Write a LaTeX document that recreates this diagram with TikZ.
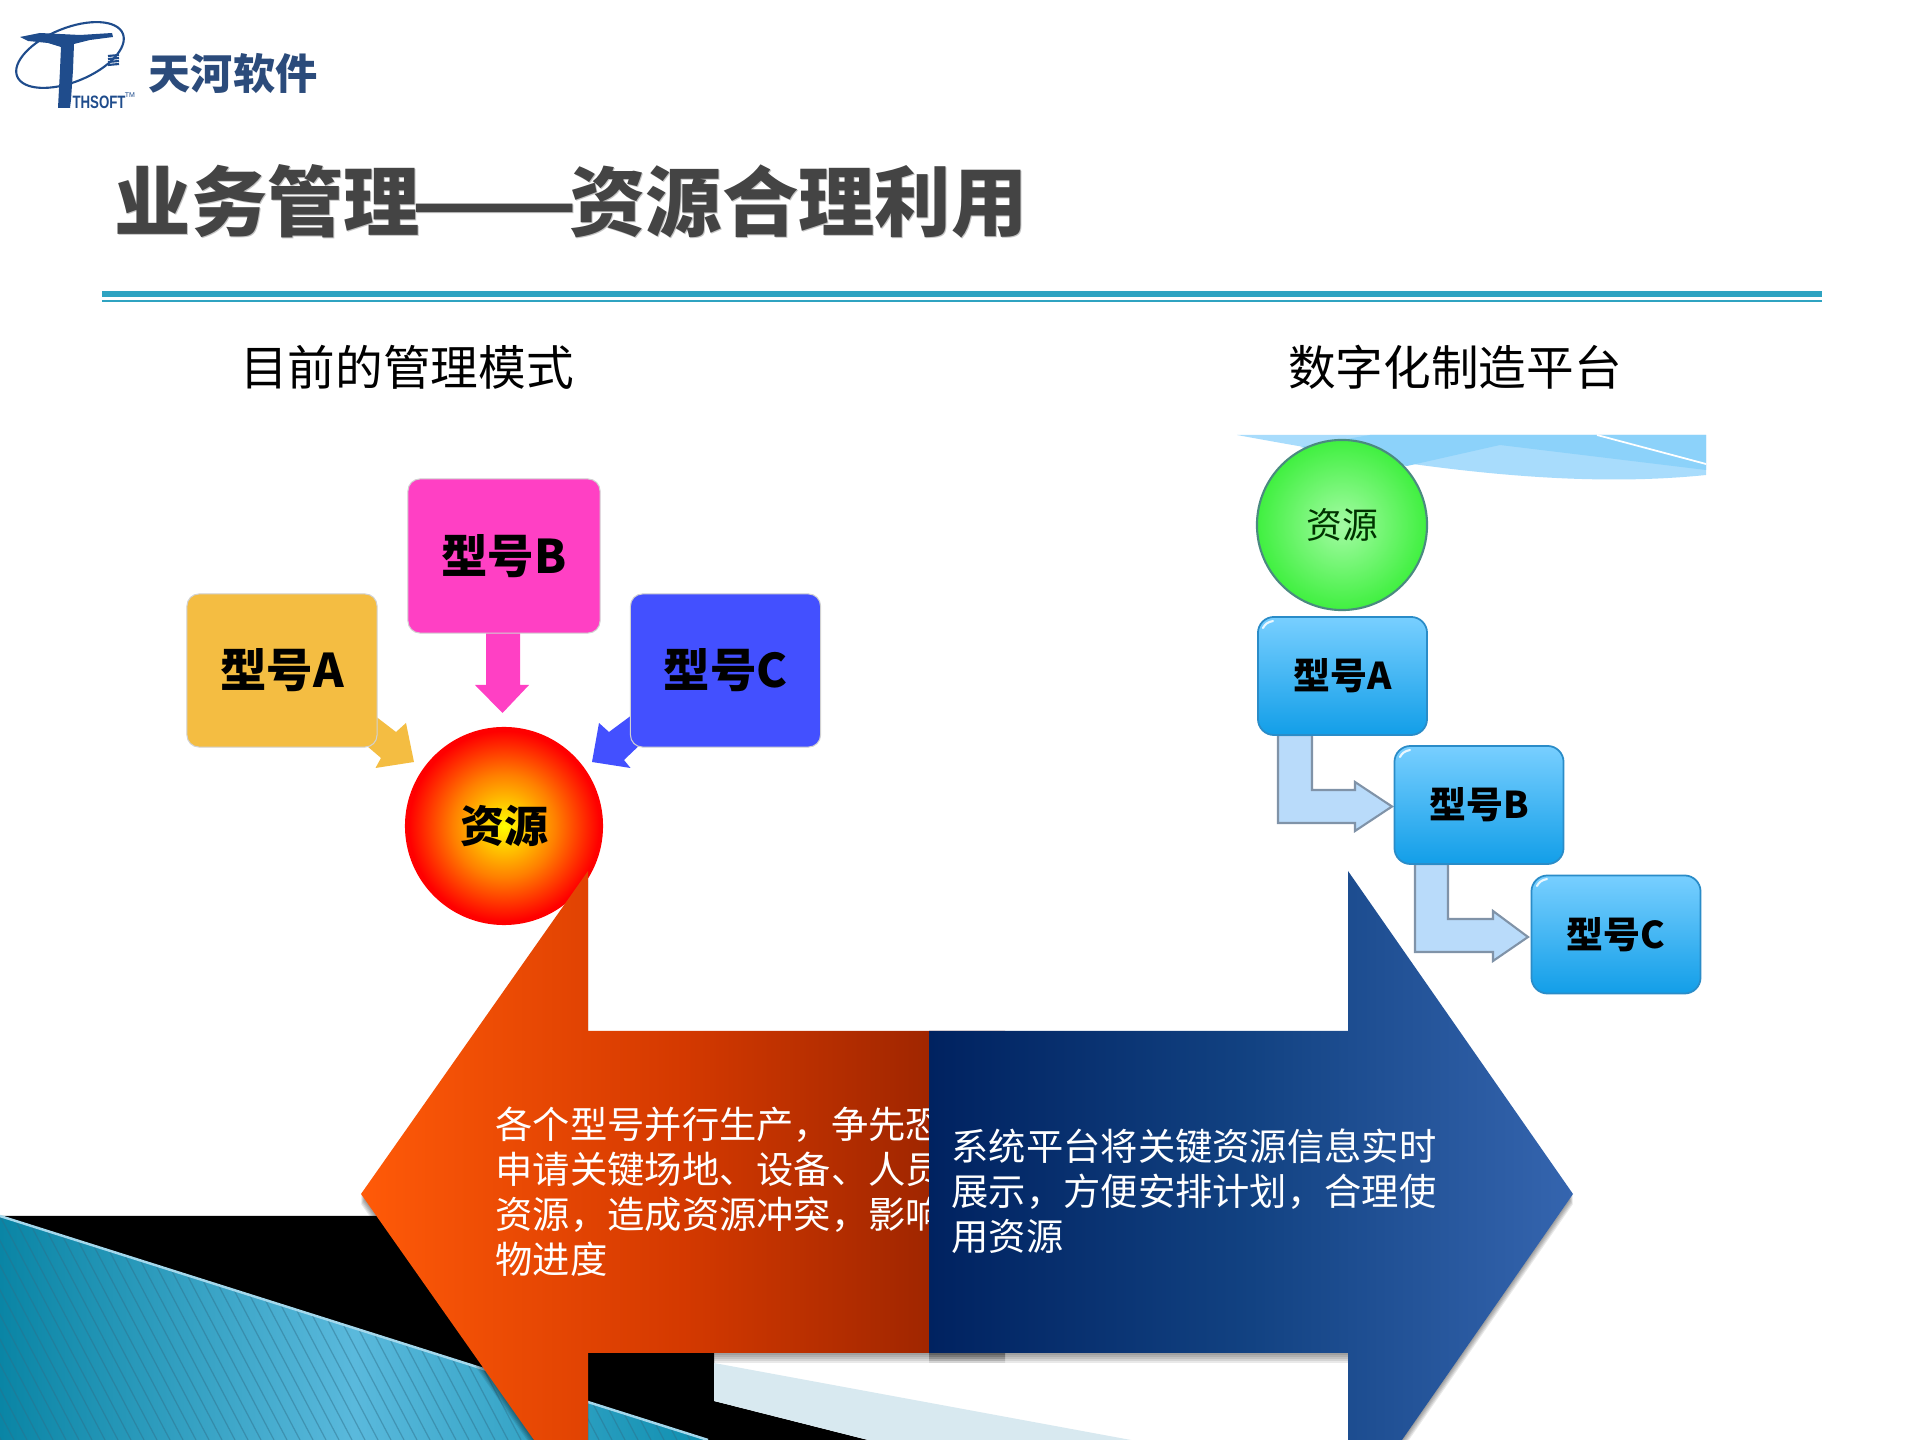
\documentclass[tikz,border=0pt]{standalone}
\usepackage{fontspec}
\setmainfont{Noto Sans CJK SC}
\newfontfamily\latinbold{Liberation Sans}[BoldFont={Liberation Sans Bold}]
\definecolor{titlegrey}{HTML}{444444}
\definecolor{titleshadow}{HTML}{C4C4C4}
\definecolor{rulecol}{HTML}{2FA3C1}
\definecolor{logoblue}{HTML}{1F4C8C}
\definecolor{logotext}{HTML}{2B4B7B}
\definecolor{boxa}{HTML}{F4BD42}
\definecolor{boxb}{HTML}{FF40C4}
\definecolor{boxc}{HTML}{4350FF}
\definecolor{skytop}{HTML}{78CFFF}
\definecolor{skybot}{HTML}{129EE8}
\definecolor{skyedge}{HTML}{2A8CC8}
\definecolor{bentfill}{HTML}{B9DBFA}
\definecolor{bentedge}{HTML}{8093A8}
\definecolor{tealA}{HTML}{0A85A5}
\definecolor{tealB}{HTML}{5AB9DC}
\definecolor{tealC}{HTML}{0F8FB0}
\definecolor{hatchcol}{HTML}{2E6F8A}
\definecolor{bandcol}{HTML}{D8E9F0}
\definecolor{swooshA}{HTML}{A8DCFC}
\definecolor{swooshB}{HTML}{8CD2FA}
\definecolor{redA}{HTML}{FF5A08}
\definecolor{redB}{HTML}{D43900}
\definecolor{redC}{HTML}{902000}
\definecolor{blueA}{HTML}{002260}
\definecolor{blueM}{HTML}{124282}
\definecolor{blueB}{HTML}{3565AF}
\definecolor{greenin}{HTML}{A4FBA4}
\definecolor{greenout}{HTML}{40F040}
\definecolor{greenedge}{HTML}{4A8A80}
\pgfdeclareradialshading{sunball}{\pgfpoint{0bp}{0bp}}{color(0bp)=(yellow); color(13bp)=(orange); color(24bp)=(red); color(50bp)=(red)}
\newcommand{\lifted}[1]{\raisebox{.7pt}{#1}}
\newcommand{\redoutline}{(361,1194) -- (588,871) -- (588,1031) -- (1005,1031) -- (1005,1353) -- (588,1353) -- (588,1440) -- (534,1440) -- cycle}
\newcommand{\blueoutline}{(929,1031) -- (1348,1031) -- (1348,871) -- (1573,1194) -- (1402,1440) -- (1348,1440) -- (1348,1353) -- (929,1353) -- cycle}
\tikzset{
  flatbox/.style={rounded corners=1.2mm,draw=black!18,line width=.3pt,minimum width=1.9cm,minimum height=1.53cm,inner sep=0pt,text=black,font=\fontsize{13.2}{13.2}\selectfont\bfseries},
  skybox/.style={rounded corners=1.6mm,draw=skyedge,line width=.5pt,top color=skytop,bottom color=skybot,minimum width=1.69cm,minimum height=1.18cm,inner sep=0pt,text=black,font=\fontsize{10.5}{10.5}\selectfont\bfseries},
  bentarrow/.style={fill=bentfill,draw=bentedge,line width=.6pt,line join=miter},
  softshade/.style={fill=black,opacity=.085},
  gloss/.style={white,line width=.6pt,opacity=.85,line cap=round},
  bodytext/.style={text=white,align=left,inner sep=0pt,anchor=west,font=\fontsize{10.6}{12.8}\selectfont},
  subtitle/.style={text=black,inner sep=0pt,font=\fontsize{13.55}{13.55}\selectfont},
  titlefont/.style={inner sep=0pt,anchor=west,font=\fontsize{21.7}{21.7}\selectfont\bfseries}
}
\newcommand{\titletext}{业务管理\hspace{-.11em}\scalebox{1.27}[1]{——}\hspace{-.11em}资源合理利用}
\begin{document}
\begin{tikzpicture}[x=.01cm,y=-.01cm]
\useasboundingbox (0,0) rectangle (1920,1440);
\fill[white] (0,0) rectangle (1920,1440);

% bottom background
\fill[black] (0,1216) -- (714,1216) -- (714,1401) -- (868,1440) -- (0,1440) -- cycle;
\fill[bandcol] (714,1363) -- (1131,1440) -- (868,1440) -- (714,1401) -- cycle;
\begin{scope}
  \clip (0,1216) -- (708,1440) -- (0,1440) -- cycle;
  \shade[left color=tealA,right color=tealC,middle color=tealB] (0,1216) rectangle (708,1440);
  \foreach \k in {-12,...,60}
    \draw[hatchcol,opacity=.45,line width=.35pt] ({\k*13},1216) -- ({\k*13+118},1440);
\end{scope}
\draw[tealB!55!white,line width=.7pt] (0,1216) -- (708,1440);

% swoosh, top right
\begin{scope}
  \clip (1237,435) rectangle (1706,490);
  \fill[swooshA] (1237,435) .. controls (1400,465) and (1560,490) .. (1706,475) -- (1706,435) -- cycle;
  \fill[swooshB] (1370,435) -- (1706,435) -- (1706,470) -- (1500,445) -- (1407,466) -- (1300,447) -- cycle;
  \draw[white,line width=.5pt] (1597,435) -- (1706,464);
\end{scope}

% logo
\draw[logoblue,line width=.6pt,rotate around={22:(70,55)}] (70,55) ellipse [x radius=57,y radius=27];
\fill[logoblue] (20,37) -- (40,33) -- (80,35) -- (112,33) -- (113,37) -- (90,40) -- (74,44) -- (73,70) -- (71,100) -- (70,108) -- (58,108) -- (60,70) -- (61,47) -- (48,43) -- (28,41) -- cycle;
\foreach \yy in {56,59,62,65}
  \draw[logoblue,line width=.6pt] (108,\yy) -- (119,\yy-1);
\node[inner sep=0pt,anchor=west,text=logoblue,font=\latinbold\bfseries\fontsize{5.1}{5.1}\selectfont,xscale=.74] (thsoft) at (72,102) {THSOFT};
\node[inner sep=0pt,text=logoblue,font=\latinbold\fontsize{2}{2}\selectfont] (tm) at (130,95) {TM};
\node[inner sep=0pt,text=logotext,font=\fontsize{12}{12}\selectfont\bfseries] (brand) at (233,73) {天河软件};

% title
\node[titlefont,text=titleshadow] (titleshade) at (115,202.5) {\titletext};
\node[titlefont,text=titlegrey] (title) at (114,201) {\titletext};
\fill[rulecol] (102,291) rectangle (1822,297.5);
\fill[rulecol] (102,300) rectangle (1822,302);

\node[subtitle] (subL) at (407,367.5) {目前的管理模式};
\node[subtitle] (subR) at (1455,367.5) {数字化制造平台};

% left diagram: block arrows
\fill[boxb] (486,633) -- (520,633) -- (520,685) -- (529,685) -- (502.5,713) -- (475,685) -- (486,685) -- cycle;
\fill[boxa] (370,712) -- (396,732) -- (406,723) -- (414,762) -- (375.5,768) -- (381,758) -- (360,740) -- cycle;
\fill[boxc] (636,712) -- (609,732) -- (599,723) -- (592,762) -- (630.5,768) -- (624,760) -- (645,740) -- cycle;
\node[flatbox,fill=boxa] (ma) at (282,670.5) {\lifted{型号A}};
\node[flatbox,fill=boxb,minimum width=1.92cm,minimum height=1.54cm] (mb) at (504,556) {\lifted{型号B}};
\node[flatbox,fill=boxc] (mc) at (725.5,670.5) {\lifted{型号C}};
\node[circle,minimum size=1.98cm,inner sep=0pt,shading=sunball,text=black,font=\fontsize{12.5}{12.5}\selectfont\bfseries] (res) at (504,826) {\lifted{资源}};

% right diagram
\draw[bentarrow] (1278,735) -- (1312,735) -- (1312,790) -- (1355,790) -- (1355,782) -- (1392,806.5) -- (1355,831) -- (1355,823) -- (1278,823) -- cycle;
\draw[bentarrow] (1415,864) -- (1448,864) -- (1448,919) -- (1493,919) -- (1493,911) -- (1528,937) -- (1493,961) -- (1493,952) -- (1415,952) -- cycle;
\node[circle,minimum size=1.7cm,inner sep=0pt,draw=greenedge,line width=.6pt,inner color=greenin,outer color=greenout,text=black!80!green,font=\fontsize{10.2}{10.2}\selectfont] (resR) at (1342,525) {资源};
\node[skybox] (ra) at (1342.5,676) {型号A};
\node[skybox] (rb) at (1479,805) {型号B};
\node[skybox] (rc) at (1616,934.5) {型号C};
\draw[gloss] (1263,628) .. controls (1265,624) and (1268,622) .. (1273,621);
\draw[gloss] (1400,757) .. controls (1402,753) and (1405,751) .. (1410,750);
\draw[gloss] (1537,886) .. controls (1539,882) and (1542,880) .. (1547,879);

% large arrows
\foreach \s in {2,4,6,8,10}
  \fill[softshade,yshift=-\s*.01cm] \redoutline;
\shade[left color=redA,right color=redC,middle color=redB] \redoutline;
\node[bodytext] (redtext) at (495,1191.5) {各个型号并行生产，争先恐\\申请关键场地、设备、人员\\资源，造成资源冲突，影响\\物进度};
\foreach \s in {2,4,6,8,10}
  \fill[softshade,yshift=-\s*.01cm] \blueoutline;
\shade[left color=blueA,right color=blueB,middle color=blueM] \blueoutline;
\node[bodytext] (bluetext) at (951,1191.5) {系统平台将关键资源信息实时\\展示，方便安排计划，合理使\\用资源};
\end{tikzpicture}
\end{document}
